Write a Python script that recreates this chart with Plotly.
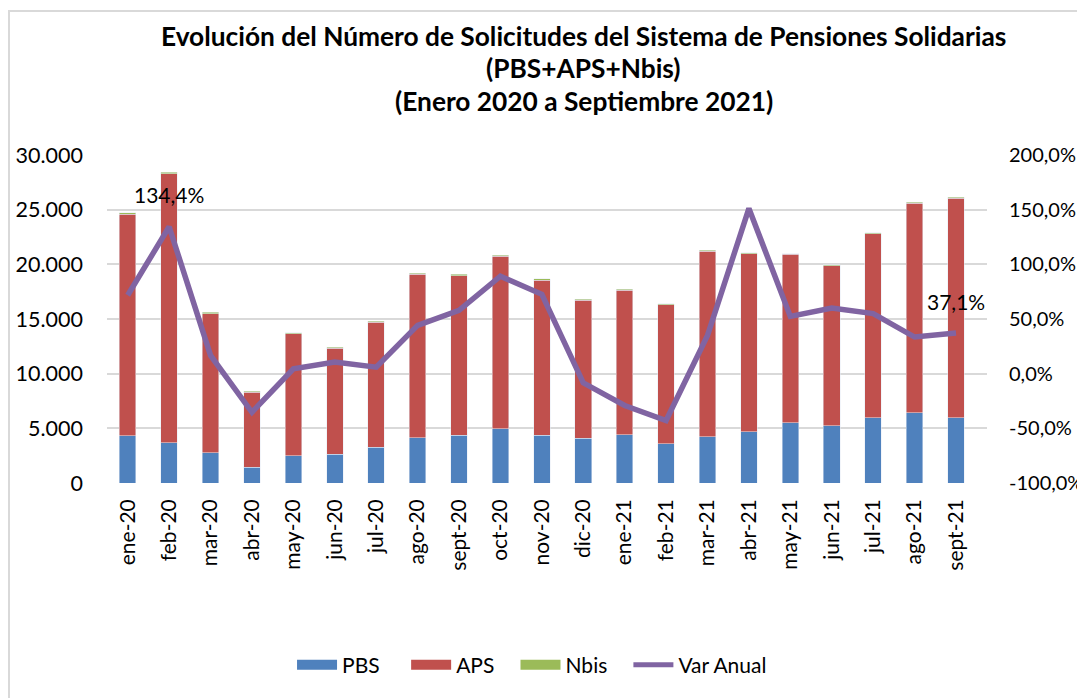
import plotly.graph_objects as go

categories = ["ene-20", "feb-20", "mar-20", "abr-20", "may-20", "jun-20", "jul-20",
              "ago-20", "sept-20", "oct-20", "nov-20", "dic-20", "ene-21", "feb-21",
              "mar-21", "abr-21", "may-21", "jun-21", "jul-21", "ago-21", "sept-21"]

pbs = [4340, 3700, 2750, 1440, 2510, 2630, 3270, 4160, 4370, 4980, 4370,
       4090, 4400, 3570, 4220, 4670, 5530, 5220, 5990, 6420, 5990]
aps = [20260, 24590, 12740, 6870, 11120, 9680, 11430, 14940, 14600, 15770, 14180,
       12620, 13230, 12750, 16980, 16320, 15370, 14640, 16830, 19150, 20070]
nbis = [120, 150, 120, 60, 90, 90, 90, 90, 130, 90, 120,
        90, 90, 90, 100, 90, 90, 90, 90, 90, 90]
var_anual = [71.7, 134.4, 16.7, -35.3, 4.5, 10.6, 6.0, 44.2, 57.9, 89.1, 72.6,
             -8.4, -29.1, -42.9, 35.0, 151.1, 52.4, 60.1, 54.9, 33.5, 37.1]
labeled_idx = [1, 20]

title_lines = ["Evolución del Número de Solicitudes del Sistema de Pensiones Solidarias",
               "(PBS+APS+Nbis)",
               "(Enero 2020 a Septiembre 2021)"]

left_ticks = [0, 5000, 10000, 15000, 20000, 25000, 30000]
right_ticks = [-100, -50, 0, 50, 100, 150, 200]

C_PBS = "#4F81BD"
C_APS = "#C0504D"
C_NBIS = "#9BBB59"
C_VAR = "#8064A2"
FONT = "Lato"
NB = "\u00a0"

def fmt_thousands(v):
    return f"{v:,}".replace(",", ".")

def fmt_pct(v):
    return f"{v:.1f}".replace(".", ",") + "%"

fig = go.Figure()
fig.add_trace(go.Bar(x=categories, y=pbs, name="PBS", marker_color=C_PBS, showlegend=False))
fig.add_trace(go.Bar(x=categories, y=aps, name="APS", marker_color=C_APS, showlegend=False))
fig.add_trace(go.Bar(x=categories, y=nbis, name="Nbis", marker_color=C_NBIS, showlegend=False))
fig.add_trace(go.Scatter(x=categories, y=var_anual, name="Var Anual", yaxis="y2",
                         mode="lines", line=dict(color=C_VAR, width=5.5), showlegend=False))

# legend entries (padded names to mimic the reference spacing)
for name, col, w, pad in [("PBS", C_PBS, 14, 4), ("APS", C_APS, 14, 3),
                          ("Nbis", C_NBIS, 14, 3), ("Var Anual", C_VAR, 5, 0)]:
    fig.add_trace(go.Scatter(x=[None], y=[None], mode="lines", name=name + NB * pad,
                             line=dict(color=col, width=w), yaxis="y2"))

for i in labeled_idx:
    fig.add_annotation(x=categories[i], y=var_anual[i], xref="x", yref="y2",
                       text=fmt_pct(var_anual[i]), showarrow=False, yshift=32,
                       font=dict(family=FONT, size=21, color="#000000"))

title_y_px = [28, 60, 93]  # figure px centers of the title lines
for txt, ypx in zip(title_lines, title_y_px):
    fig.add_annotation(x=0.542, y=(475 - ypx) / 328, xref="paper", yref="paper",
                       text=f"<b>{txt}</b>", showarrow=False, xanchor="center",
                       yanchor="middle", font=dict(family=FONT, size=26.3, color="#000000"))

fig.update_layout(
    width=1077, height=690,
    barmode="stack", bargap=0.6,
    paper_bgcolor="white", plot_bgcolor="white",
    margin=dict(l=99, r=98, t=147, b=215),
    font=dict(family=FONT, size=21, color="#000000"),
    xaxis=dict(type="category", tickangle=-90, showgrid=False, ticks="",
               showline=False, tickfont=dict(size=21), automargin=False,
               ticklabelstandoff=11),
    yaxis=dict(range=[0, 30000], tickvals=left_ticks,
               ticktext=[fmt_thousands(v) for v in left_ticks],
               showgrid=True, gridcolor="#D9D9D9", gridwidth=1.5, zeroline=False,
               ticks="", ticklabelstandoff=23, automargin=False,
               tickfont=dict(size=21.5)),
    yaxis2=dict(range=[-100, 200], tickvals=right_ticks,
                ticktext=[fmt_pct(v) for v in right_ticks],
                overlaying="y", side="right", showgrid=False, zeroline=False,
                ticks="", ticklabelstandoff=21, automargin=False,
                tickfont=dict(size=20)),
    legend=dict(orientation="h", x=0.483, xanchor="center", y=-0.555, yanchor="middle",
                font=dict(size=21), itemwidth=40, traceorder="normal"),
    shapes=[dict(type="rect", xref="paper", yref="paper",
                 x0=(1 - 99) / 880, x1=1.3, y0=-1.0, y1=(475 - 3) / 328,
                 line=dict(color="#D9D9D9", width=2), layer="below")],
)

fig.write_html("out.html")
